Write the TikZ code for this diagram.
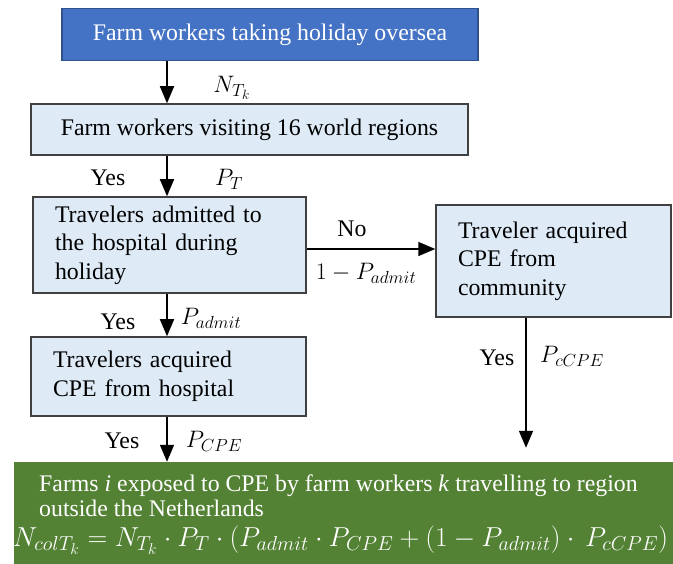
\documentclass[tikz,border=0pt]{standalone}
\usepackage{fix-cm}
\usepackage{graphicx}
\usepackage{fontspec}
\setmainfont{Liberation Serif}
\DeclareMathSizes{23.8}{23.8}{17.5}{13.5}
\usetikzlibrary{arrows.meta}

\definecolor{topblue}{HTML}{4472C4}
\definecolor{topedge}{HTML}{2F528F}
\definecolor{paleblue}{HTML}{DEEBF7}
\definecolor{farmgreen}{HTML}{548235}

\tikzset{
  topbox/.style={draw=topedge, line width=1.2pt, fill=topblue, text=white,
    inner sep=0pt, font=\fontsize{23.8}{28.5}\selectfont},
  stepbox/.style={draw=black!75, line width=1.5pt, fill=paleblue,
    inner ysep=0pt, inner xsep=22pt, align=left, font=\fontsize{23.8}{28.5}\selectfont},
  farmbox/.style={fill=farmgreen, inner sep=0pt},
  farmtext/.style={text=white, inner sep=0pt, align=left, font=\fontsize{23.8}{25}\selectfont},
  flow/.style={line width=1.6pt, -{Triangle[width=14pt,length=17pt]}},
  lbl/.style={inner sep=0pt, font=\fontsize{23.8}{28}\selectfont},
}

\begin{document}
\begin{tikzpicture}[x=1pt,y=-1pt]
    \useasboundingbox (0,0) rectangle (673,564);

    \node[topbox, minimum width=416pt, minimum height=52pt] (top) at (270,34.5) {Farm workers taking holiday oversea};
    \node[stepbox, minimum width=437pt, minimum height=51pt, align=center] (visit) at (249.5,129.5) {Farm workers visiting 16 world regions};
    \node[stepbox, text width=229pt, minimum height=96pt] (admit) at (169.5,245) {Travelers admitted to\\the hospital during\\holiday};
    \node[stepbox, text width=191pt, minimum height=112pt] (comm) at (553.5,261) {Traveler acquired\\CPE from\\community};
    \node[stepbox, text width=231pt, minimum height=79pt] (hosp) at (168.5,376.5) {Travelers acquired\\CPE from hospital};
    \node[farmbox, minimum width=666pt, minimum height=108pt] (farm) at (347,516) {};

    \node[farmtext, anchor=base west] (farmtxt) at (39,516) {Farms \textit{i} exposed to CPE by farm workers \textit{k} travelling to region\\outside the Netherlands};
    \node[farmtext, anchor=base] (formula) at (340.5,546) {\resizebox{655pt}{!}{$N_{colT_k} = N_{T_k}\cdot P_T\cdot (P_{admit}\cdot P_{CPE} + (1 - P_{admit})\cdot\, P_{cCPE})$}};

    \coordinate (axis) at (167,0);
    \coordinate (axisr) at (526,0);
    \coordinate (noline) at (0,249);

    \draw[flow] (top.south -| axis) -- (visit.north -| axis);
    \draw[flow] (visit.south -| axis) -- (admit.north -| axis);
    \draw[flow] (admit.south -| axis) -- (hosp.north -| axis);
    \draw[flow] (hosp.south -| axis) -- (farm.north -| axis);
    \draw[flow] (admit.east |- noline) -- (comm.west |- noline);
    \draw[flow, shorten >=14pt] (comm.south -| axisr) -- (farm.north -| axisr);

    \node[lbl] (ntk) at (232,88) {$N_{T_k}$};
    \node[lbl] (yes1) at (108,178) {Yes};
    \node[lbl] (pt) at (229,179) {$P_T$};
    \node[lbl] (no) at (352,229) {No};
    \node[lbl] (notadmit) at (366,273) {$1 - P_{admit}$};
    \node[lbl] (yes2) at (118,322) {Yes};
    \node[lbl] (padmit) at (211,318) {$P_{admit}$};
    \node[lbl] (yes3) at (122,441) {Yes};
    \node[lbl] (pcpe) at (214,441) {$P_{CPE}$};
    \node[lbl] (yes4) at (497,358) {Yes};
    \node[lbl] (pccpe) at (572,356) {$P_{cCPE}$};
\end{tikzpicture}
\end{document}
